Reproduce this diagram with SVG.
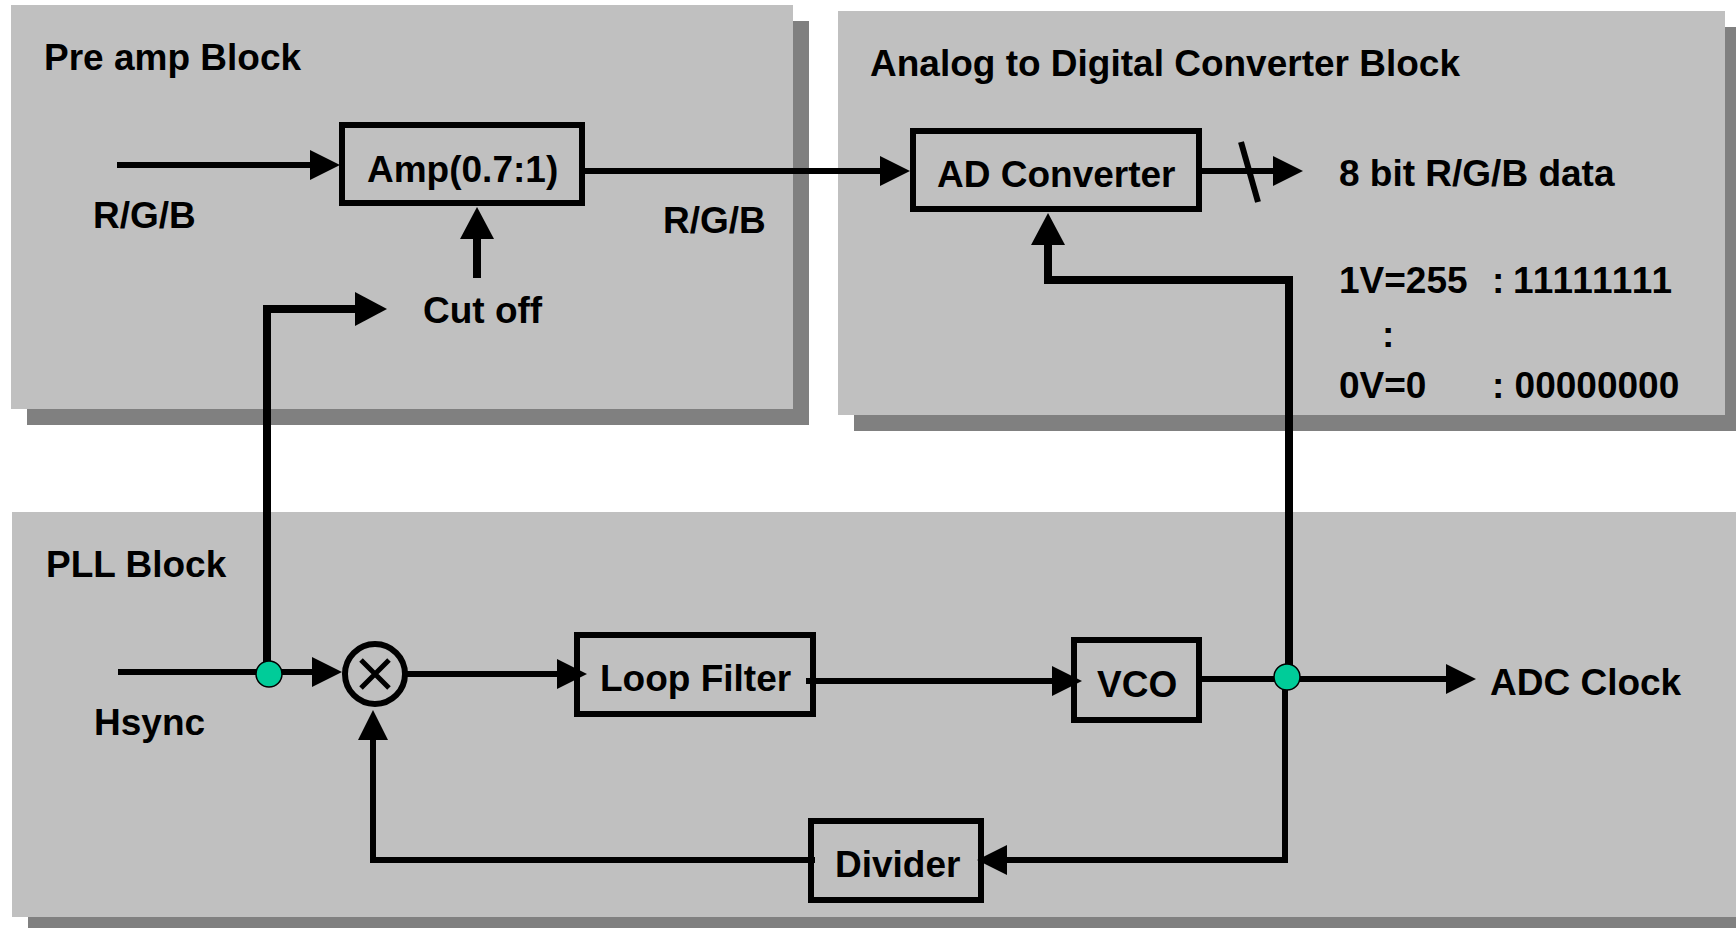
<svg xmlns="http://www.w3.org/2000/svg" width="1736" height="928" viewBox="0 0 1736 928">
<defs>
<style>
.blk{fill:#C0C0C0}
.shd{fill:#808080}
.box{fill:none;stroke:#000;stroke-width:6}
.t{font-family:"Liberation Sans",Arial,sans-serif;font-weight:bold;font-size:37px;fill:#000}
.ln{fill:none;stroke:#000;stroke-width:6}
.lnb{fill:none;stroke:#000;stroke-width:8}
.dot{fill:#00CC99;stroke:#000;stroke-width:1.5}
</style>
<marker id="arr" markerUnits="userSpaceOnUse" markerWidth="30" markerHeight="30" refX="10" refY="15" orient="auto" overflow="visible"><path d="M0,0 L30,15 L0,30 z" fill="#000"/></marker>
<marker id="arrBig" markerUnits="userSpaceOnUse" markerWidth="32" markerHeight="34" refX="10" refY="17" orient="auto" overflow="visible"><path d="M0,0 L32,17 L0,34 z" fill="#000"/></marker>
</defs>
<rect width="1736" height="928" fill="#fff"/>
<g id="preamp-block">
<rect class="shd" x="27" y="21" width="782" height="404"/>
<rect class="blk" x="11" y="5" width="782" height="404"/>
<text class="t" x="44" y="70">Pre amp Block</text>
</g>
<g id="adc-block">
<rect class="shd" x="854" y="27" width="887" height="404"/>
<rect class="blk" x="838" y="11" width="887" height="404"/>
<text class="t" x="870" y="76">Analog to Digital Converter Block</text>
</g>
<g id="pll-block">
<rect class="shd" x="28" y="528" width="1720" height="410"/>
<rect class="blk" x="12" y="512" width="1730" height="405"/>
<text class="t" x="46" y="577">PLL Block</text>
</g>
<g id="connectors">
<path class="ln" d="M117,165 H320" marker-end="url(#arr)"/>
<path class="ln" d="M585,171 H890" marker-end="url(#arr)"/>
<path class="lnb" d="M477,278 V229" marker-end="url(#arrBig)"/>
<path class="lnb" d="M267,674 V309 H365" marker-end="url(#arrBig)"/>
<path class="ln" d="M118,672 H322" marker-end="url(#arr)"/>
<path class="ln" d="M405,674 H567" marker-end="url(#arr)"/>
<path class="ln" d="M806,681 H1062" marker-end="url(#arr)"/>
<path class="ln" d="M1202,679 H1456" marker-end="url(#arr)"/>
<path class="lnb" d="M1289,677 V280 H1048 V235" marker-end="url(#arrBig)"/>
<path class="ln" d="M1285,677 V860 H997" marker-end="url(#arr)"/>
<path class="ln" d="M815,860 H373 V730" marker-end="url(#arr)"/>
<path class="ln" d="M1202,171 H1283" marker-end="url(#arr)"/>
<path class="ln" d="M1241,142 L1258,202" stroke-width="7"/>
<circle class="dot" cx="269" cy="674" r="13"/>
<circle class="dot" cx="1287" cy="677" r="13"/>
</g>
<g id="rgb-in"><text class="t" x="93" y="228">R/G/B</text></g>
<g id="amp">
<rect class="box" x="342" y="125" width="240" height="78"/>
<text class="t" x="367" y="182">Amp(0.7:1)</text>
</g>
<g id="cutoff"><text class="t" x="423" y="323">Cut off</text></g>
<g id="rgb-out"><text class="t" x="663" y="233">R/G/B</text></g>
<g id="ad-converter">
<rect class="box" x="913" y="131" width="286" height="78"/>
<text class="t" x="937" y="187">AD Converter</text>
</g>
<g id="data-out"><text class="t" x="1339" y="186">8 bit R/G/B data</text></g>
<g id="code-table">
<text class="t" x="1339" y="293">1V=255</text>
<text class="t" x="1492" y="293">:</text>
<text class="t" x="1513" y="293" textLength="159" lengthAdjust="spacing">11111111</text>
<text class="t" x="1382" y="347">:</text>
<text class="t" x="1339" y="398">0V=0</text>
<text class="t" x="1492" y="398">: 00000000</text>
</g>
<g id="hsync"><text class="t" x="94" y="735">Hsync</text></g>
<g id="multiplier">
<circle class="box" cx="375" cy="674" r="30"/>
<path d="M361,660 L389,688 M389,660 L361,688" stroke="#000" stroke-width="5"/>
</g>
<g id="loop-filter">
<rect class="box" x="577" y="635" width="236" height="79"/>
<text class="t" x="600" y="691">Loop Filter</text>
</g>
<g id="vco">
<rect class="box" x="1074" y="640" width="125" height="80"/>
<text class="t" x="1097" y="697">VCO</text>
</g>
<g id="adc-clock"><text class="t" x="1490" y="695">ADC Clock</text></g>
<g id="divider">
<rect class="box" x="811" y="821" width="170" height="79"/>
<text class="t" x="835" y="877">Divider</text>
</g>
</svg>
